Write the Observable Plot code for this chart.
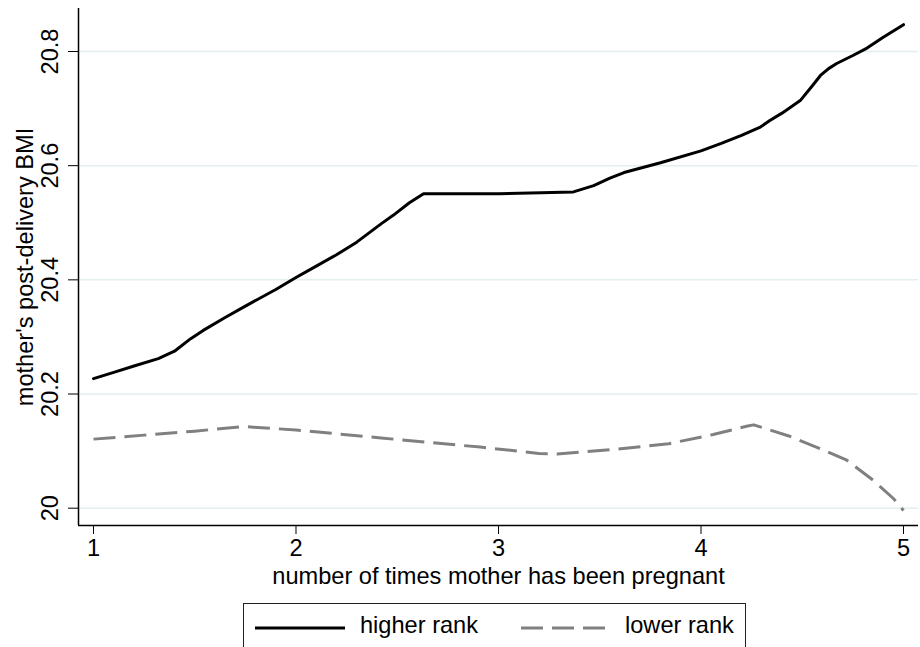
<!DOCTYPE html>
<html>
<head>
<meta charset="utf-8">
<script src="https://cdn.jsdelivr.net/npm/d3@7"></script>
<script src="https://cdn.jsdelivr.net/npm/@observablehq/plot@0.6"></script>
<style>
  html, body { margin: 0; padding: 0; background: #fff; overflow: hidden; }
  #wrap { position: relative; width: 920px; height: 647px; font-family: "Liberation Sans", Arial, Helvetica, sans-serif; }
  #legend { position: absolute; left: 243px; top: 603px; width: 503px; height: 60px; border: 1.5px solid #222; box-sizing: border-box; background: #fff; }
  #legend .item { position: absolute; top: 8px; font-size: 23.6px; color: #000; white-space: nowrap; }
</style>
</head>
<body>
<div id="wrap"></div>
<script>
// ---- data ----
const xTicks = [1, 2, 3, 4, 5];
const yTicks = [20, 20.2, 20.4, 20.6, 20.8];
const seriesNames = ["higher rank", "lower rank"];

const higherX = [1.00, 1.10, 1.20, 1.32, 1.40, 1.48, 1.54, 1.65, 1.75, 1.90, 2.00, 2.10, 2.20, 2.30, 2.42, 2.48, 2.56, 2.63, 3.00, 3.37, 3.47, 3.55, 3.62, 3.80, 4.00, 4.10, 4.20, 4.29, 4.34, 4.40, 4.49, 4.55, 4.59, 4.63, 4.67, 4.75, 4.82, 4.90, 5.00];
const higherY = [20.227, 20.238, 20.249, 20.262, 20.275, 20.297, 20.311, 20.334, 20.354, 20.383, 20.404, 20.424, 20.444, 20.466, 20.498, 20.513, 20.535, 20.551, 20.551, 20.554, 20.565, 20.578, 20.588, 20.605, 20.626, 20.639, 20.653, 20.667, 20.679, 20.692, 20.714, 20.740, 20.758, 20.770, 20.779, 20.793, 20.806, 20.825, 20.847];

const lowerX = [1.00, 1.25, 1.50, 1.74, 2.00, 2.42, 2.91, 3.20, 3.29, 3.57, 3.84, 4.06, 4.23, 4.26, 4.43, 4.59, 4.72, 4.85, 4.95, 5.00];
const lowerY = [20.121, 20.128, 20.135, 20.143, 20.137, 20.123, 20.107, 20.096, 20.095, 20.103, 20.113, 20.129, 20.144, 20.146, 20.127, 20.104, 20.084, 20.049, 20.017, 19.996];

const xLabel = "number of times mother has been pregnant";
const yLabel = "mother's post-delivery BMI";

// ---- build tables ----
const higher = higherX.map((x, i) => ({x, y: higherY[i]}));
const lower = lowerX.map((x, i) => ({x, y: lowerY[i]}));

const xDomain = [0.92593, 5.07407];
const yDomain = [19.9697, 20.8753];
const fs = 23.6;

const chart = Plot.plot({
  width: 920,
  height: 600,
  marginLeft: 78,
  marginRight: 2,
  marginTop: 8,
  marginBottom: 75,
  style: {fontFamily: "'Liberation Sans', Arial, Helvetica, sans-serif", fontSize: fs + "px", color: "#000", background: "#fff"},
  x: {domain: xDomain},
  y: {domain: yDomain},
  marks: [
    Plot.ruleY(yTicks, {stroke: "#e4eef0", strokeWidth: 1.5}),
    Plot.ruleX([xDomain[0]], {stroke: "#000", strokeWidth: 1.5}),
    Plot.ruleY([yDomain[0]], {stroke: "#000", strokeWidth: 1.5}),
    Plot.axisX({ticks: xTicks, tickSize: 9, tickPadding: 5, tickFormat: d => String(d), label: null, fontSize: fs, stroke: "#000"}),
    Plot.axisY({ticks: yTicks, tickSize: 10, tickFormat: () => "", label: null, stroke: "#000"}),
    Plot.text(yTicks, {y: d => d, text: d => String(d), frameAnchor: "left", dx: -21, rotate: -90, lineAnchor: "bottom", textAnchor: "middle", fontSize: fs, fill: "#000"}),
    Plot.text([yLabel], {text: d => d, frameAnchor: "left", dx: -46, rotate: -90, lineAnchor: "bottom", textAnchor: "middle", fontSize: fs, fill: "#000"}),
    Plot.text([xLabel], {text: d => d, frameAnchor: "bottom", dy: 58, lineAnchor: "bottom", textAnchor: "middle", fontSize: fs, fill: "#000"}),
    Plot.line(lower, {x: "x", y: "y", stroke: "#808080", strokeWidth: 3, strokeDasharray: "22,9", strokeLinecap: "butt"}),
    Plot.line(higher, {x: "x", y: "y", stroke: "#000", strokeWidth: 3})
  ]
});

const wrap = document.getElementById("wrap");
wrap.appendChild(chart);

// ---- legend ----
const legend = document.createElement("div");
legend.id = "legend";
legend.innerHTML = `
  <svg width="503" height="60" style="position:absolute;left:0;top:0">
    <line x1="11" x2="101" y1="24" y2="24" stroke="#000" stroke-width="3"/>
    <line x1="277" x2="367" y1="24" y2="24" stroke="#808080" stroke-width="3" stroke-dasharray="22,9"/>
  </svg>
  <div class="item" style="left:116px">${seriesNames[0]}</div>
  <div class="item" style="left:381px">${seriesNames[1]}</div>`;
wrap.appendChild(legend);
</script>
</body>
</html>
